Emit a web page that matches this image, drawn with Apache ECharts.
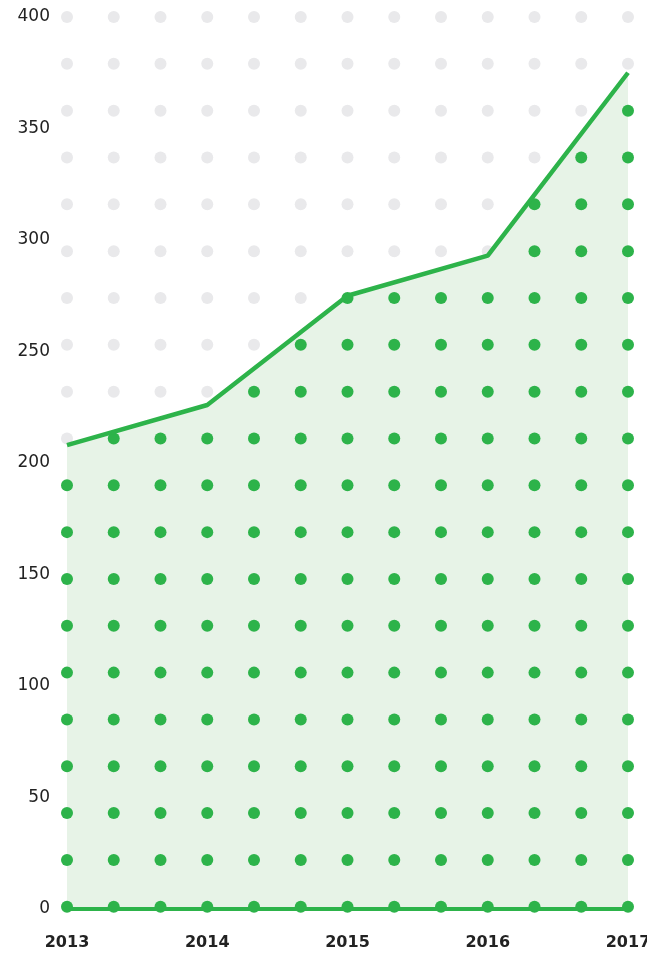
<!DOCTYPE html>
<html><head><meta charset="utf-8">
<script src="https://cdn.jsdelivr.net/npm/echarts@6/dist/echarts.min.js"></script>
<style>html,body{margin:0;padding:0;background:#fff;overflow:hidden}#c{position:absolute;left:0;top:0;width:647px;height:953px}</style>
</head><body><div id="c"></div>
<script>
const years = [2013, 2014, 2015, 2016, 2017];
const values = [208, 226, 275, 293, 375];
const yTicks = [0, 50, 100, 150, 200, 250, 300, 350, 400];
const xTickLabels = ['2013', '2014', '2015', '2016', '2017'];

const GREEN = '#2db34a';
const GRAY = '#e9e9eb';

function lineAt(x) {
  for (let i = 0; i < years.length - 1; i++) {
    if (x >= years[i] - 1e-9 && x <= years[i + 1] + 1e-9) {
      const t = (x - years[i]) / (years[i + 1] - years[i]);
      return values[i] + t * (values[i + 1] - values[i]);
    }
  }
  return values[values.length - 1];
}

// decorative dot lattice: 3 columns per year, 20 rows
const dots = [];
for (let c = 0; c <= 12; c++) {
  const x = years[0] + c / 3;
  for (let r = 0; r < 20; r++) {
    const y = 400 - r * 21;
    const below = y <= lineAt(x) + 0.01;
    dots.push({ value: [x, y], itemStyle: { color: below ? GREEN : GRAY, opacity: 1 } });
  }
}

const lineData = years.map((y, i) => [y, values[i]]);

const chart = echarts.init(document.getElementById('c'), null, { renderer: 'canvas', width: 647, height: 953 });
chart.setOption({
  animation: false,
  backgroundColor: '#ffffff',
  grid: { left: 67, right: 19, top: 17, bottom: 44, containLabel: false, outerBoundsMode: 'none' },
  xAxis: {
    type: 'value', min: 2013, max: 2017, interval: 1, z: 10,
    axisLine: { show: true, lineStyle: { color: GREEN, width: 4, cap: 'round' } },
    axisTick: { show: false },
    splitLine: { show: false },
    axisLabel: {
      margin: 26, color: '#222', fontSize: 16, fontWeight: 'bold',
      fontFamily: 'DejaVu Sans', hideOverlap: false,
      formatter: v => xTickLabels[years.indexOf(Math.round(v))] || ''
    }
  },
  yAxis: {
    type: 'value', min: 0, max: 400, interval: 50,
    axisLine: { show: false }, axisTick: { show: false }, splitLine: { show: false },
    axisLabel: {
      margin: 17, color: '#222', fontSize: 17, fontFamily: 'DejaVu Sans',
      formatter: v => yTicks.includes(v) ? String(v) : ''
    }
  },
  series: [
    {
      type: 'line', data: lineData, z: 1, symbol: 'none',
      lineStyle: { width: 0, opacity: 0 },
      areaStyle: { color: '#e7f3e7', opacity: 1 }
    },
    {
      type: 'scatter', data: dots, z: 2, symbol: 'circle', symbolSize: 12,
      clip: false, itemStyle: { opacity: 1 }
    },
    {
      type: 'line', data: lineData, z: 3, symbol: 'none',
      lineStyle: { width: 4.5, color: GREEN, cap: 'butt' }
    }
  ]
});
</script></body></html>
